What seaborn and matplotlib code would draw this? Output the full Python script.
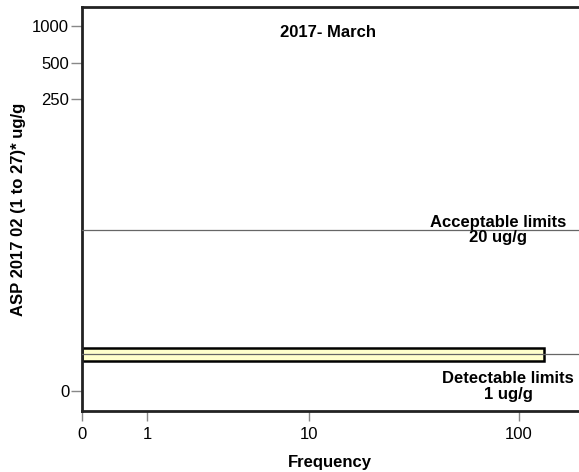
import matplotlib
matplotlib.use('Agg')
import matplotlib.pyplot as plt
import numpy as np
import pandas as pd
import seaborn as sns

# Data
level = [1]          # ASP value (ug/g) of the single bin
frequency = [130]    # number of samples in that bin
limit_values = [20, 1]
limit_labels = ['Acceptable limits\n20 ug/g', 'Detectable limits\n1 ug/g']
x_ticks = [0, 1, 10, 100]
y_ticks = [0, 250, 500, 1000]

sns.set_theme(style='white')
plt.rcParams['font.family'] = ['Liberation Sans', 'DejaVu Sans']
plt.rcParams['text.color'] = 'black'
plt.rcParams['axes.labelcolor'] = 'black'
plt.rcParams['xtick.color'] = 'black'
plt.rcParams['ytick.color'] = 'black'

def fwd(v):
    return np.log10(np.maximum(np.asarray(v, dtype=float) + 1, 1e-9))

def inv(v):
    return 10 ** np.asarray(v, dtype=float) - 1

fig = plt.figure(figsize=(5.79, 4.72), dpi=100)
ax = fig.add_axes([0.141, 0.129, 0.859, 0.856])
ax.set_xscale('function', functions=(fwd, inv))
ax.set_yscale('function', functions=(fwd, inv))

df = pd.DataFrame({'level': level, 'frequency': frequency})
# width is taken in the transformed (log) space
sns.barplot(data=df, x='frequency', y='level', orient='h', native_scale=True,
            width=0.107, color='#FFFFCC', saturation=1, edgecolor='black',
            linewidth=1.8, ax=ax, zorder=2)

# reference lines
for v in limit_values:
    ax.axhline(v, color='#666666', lw=0.9, zorder=3)

ax.set_xlim(0, 189)
ax.set_ylim(-0.32, 1438)
ax.set_xticks(x_ticks)
ax.set_xticklabels([str(t) for t in x_ticks])
ax.set_yticks(y_ticks)
ax.set_yticklabels([str(t) for t in y_ticks])
ax.minorticks_off()

ax.tick_params(axis='both', which='major', direction='out', width=1,
               labelsize=12, left=True, bottom=True)
ax.tick_params(axis='both', which='major', color='#888888')
ax.tick_params(axis='x', length=7.5, pad=4)
ax.tick_params(axis='y', length=8, pad=1)

for s in ['left', 'bottom', 'top']:
    ax.spines[s].set_visible(True)
    ax.spines[s].set_linewidth(2)
    ax.spines[s].set_color('#222222')
ax.spines['right'].set_visible(False)

ax.set_xlabel('Frequency', fontsize=12, fontweight='bold', labelpad=9)
ax.set_ylabel('ASP 2017 02 (1 to 27)* ug/g', fontsize=12, fontweight='bold')
ax.yaxis.set_label_coords(-0.111, 0.5)

ax.text(0.496, 0.938, '2017- March', transform=ax.transAxes, ha='center', va='center',
        fontsize=12, fontweight='bold')
ax.text(0.837, 20, limit_labels[0], transform=ax.get_yaxis_transform(), ha='center',
        va='center', fontsize=12, fontweight='bold', linespacing=1.05)
ax.text(0.858, 0.08, limit_labels[1], transform=ax.get_yaxis_transform(), ha='center',
        va='center', fontsize=12, fontweight='bold', linespacing=1.05)

fig.savefig('out.png', dpi=100)
